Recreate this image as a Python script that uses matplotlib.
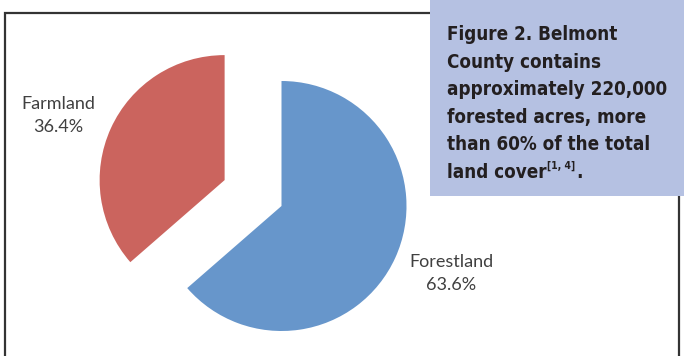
import matplotlib
matplotlib.use("Agg")
import numpy as np
import matplotlib.pyplot as plt
from matplotlib.patches import Rectangle
from matplotlib import font_manager

# data
labels = ["Forestland", "Farmland"]
shares = [63.6, 36.4]
colors = ["#6796cb", "#cb645e"]
explode = [0, 0.5]

caption = ["Figure 2. Belmont",
           "County contains",
           "approximately 220,000",
           "forested acres, more",
           "than 60% of the total"]
caption_last = "land cover"
caption_ref = "[1, 4]"

W, H = 684, 356
fig = plt.figure(figsize=(W / 100, H / 100), dpi=100)

# pie centre (px from left / top) and radius in px
cx, cy, R = 281.5, 206, 125
ax = fig.add_axes([0, 0, 1, 1])
wedges, texts = ax.pie(shares, colors=colors, explode=explode, startangle=90,
                       counterclock=False)
ax.set_xlim(-cx / R, (W - cx) / R)
ax.set_ylim(-(H - cy) / R, cy / R)
ax.set_aspect("auto")
ax.axis("off")


def fx(px):
    return px / W


def fy(py):
    return 1 - py / H


# label block centres in px
label_pos = [(451, 273.5), (58, 115.5)]
lab_font = dict(family=["Lato", "DejaVu Sans"], size=13, color="#404040",
                ha="center", va="center", linespacing=1.6)
for (px, py), name, v in zip(label_pos, labels, shares):
    fig.text(fx(px), fy(py), f"{name}\n{v}%", **lab_font)

# chart frame
fig.add_artist(Rectangle((fx(5), fy(H + 10)), fx(679) - fx(5), fy(13) - fy(H + 10),
                         transform=fig.transFigure, fill=False,
                         edgecolor="#333333", linewidth=1.6, zorder=2))

# caption box
fig.add_artist(Rectangle((fx(430), fy(196)), fx(W + 5) - fx(430), fy(-5) - fy(196),
                         transform=fig.transFigure, facecolor="#b5c1e2",
                         edgecolor="none", zorder=3))

names = {f.name for f in font_manager.fontManager.ttflist}
if "Liberation Sans Narrow" in names:
    cap_family, cap_stretch, cap_size = "Liberation Sans Narrow", "normal", 16
else:
    cap_family, cap_stretch, cap_size = "DejaVu Sans", "condensed", 13.5
cap_font = dict(family=cap_family, stretch=cap_stretch, weight="bold",
                size=cap_size, color="#231f20", va="baseline", ha="left", zorder=4)
x0 = fx(447)
base0, step = 40, 27.6
for i, line in enumerate(caption):
    fig.text(x0, fy(base0 + i * step), line, **cap_font)

yl = fy(base0 + 5 * step)
t = fig.text(x0, yl, caption_last, **cap_font)
r = fig.canvas.get_renderer()
bb = t.get_window_extent(r)
sup_font = dict(cap_font)
sup_font["size"] = cap_size * 0.55
t2 = fig.text(bb.x1 / W + 0.001, yl + 9 / H, caption_ref, **sup_font)
bb2 = t2.get_window_extent(r)
fig.text(bb2.x1 / W + 0.001, yl, ".", **cap_font)

fig.savefig("out.png", dpi=100)
